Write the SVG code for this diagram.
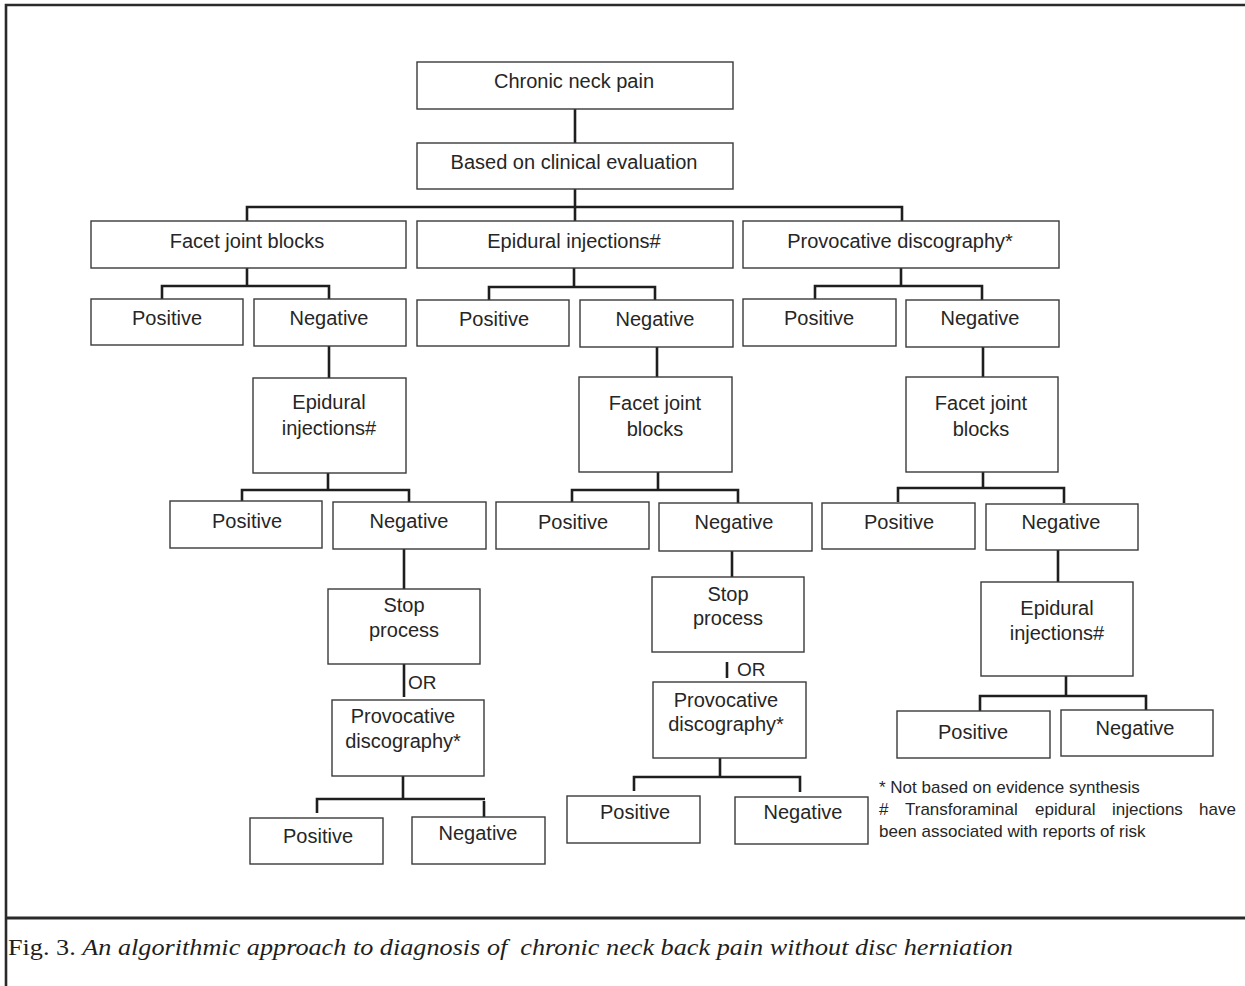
<svg xmlns="http://www.w3.org/2000/svg" width="1245" height="986" viewBox="0 0 1245 986">
<style>
.box{fill:#fff;stroke:#3a3a3a;stroke-width:1.4}
.lbl{font-family:"Liberation Sans",Arial,sans-serif;font-size:20px;fill:#262626;text-anchor:middle}
.or{font-family:"Liberation Sans",Arial,sans-serif;font-size:19px;fill:#262626}
.conn{stroke:#1e1e1e;stroke-width:2.6;fill:none;stroke-linecap:butt}
.frame{stroke:#2a2a2a;stroke-width:2.6;fill:none}
.note{font-family:"Liberation Sans",Arial,sans-serif;font-size:17px;fill:#262626}
.cap{font-family:"Liberation Serif","Times New Roman",serif;font-size:24px;fill:#1e1e1e;white-space:pre}
</style>
<rect width="1245" height="986" fill="#fff"/>
<g id="frame">
<path class="frame" d="M6,986 V5 H1245"/>
<path class="frame" d="M6,918 H1245" style="stroke-width:3"/>
</g>
<g id="connectors">
<path class="conn" d="M575,109 V143"/>
<path class="conn" d="M575,189 V221 M247,221 V207 H902 V221"/>
<path class="conn" d="M247,268 V286 M162,299 V286 H329 V299"/>
<path class="conn" d="M574,268 V287 M489,300 V287 H655 V300"/>
<path class="conn" d="M901,268 V286 M815,299 V286 H982 V300"/>
<path class="conn" d="M329,346 V378"/>
<path class="conn" d="M328,473 V490 M242,501 V490 H409 V502"/>
<path class="conn" d="M404,549 V589"/>
<path class="conn" d="M404,664 V697"/>
<path class="conn" d="M403,776 V799 M317,813 V799 H485 M484,801 V817"/>
<path class="conn" d="M657,347 V377"/>
<path class="conn" d="M658,472 V490 M572,502 V490 H738 V503"/>
<path class="conn" d="M732,551 V577"/>
<path class="conn" d="M727,662 V678"/>
<path class="conn" d="M720,758 V777 M634,791 V777 H800 V792"/>
<path class="conn" d="M983,347 V377"/>
<path class="conn" d="M983,472 V488 M898,502 V488 H1064 V503"/>
<path class="conn" d="M1058,550 V582"/>
<path class="conn" d="M1066,676 V696 M980,711 V696 H1146 V710"/>
</g>
<g id="n1"><rect class="box" x="417" y="62" width="316" height="47"/><text class="lbl" x="574" y="88">Chronic neck pain</text></g>
<g id="n2"><rect class="box" x="417" y="143" width="316" height="46"/><text class="lbl" x="574" y="169">Based on clinical evaluation</text></g>
<g id="n3"><rect class="box" x="91" y="221" width="315" height="47"/><text class="lbl" x="247" y="248">Facet joint blocks</text></g>
<g id="n4"><rect class="box" x="417" y="221" width="316" height="47"/><text class="lbl" x="574" y="248">Epidural injections#</text></g>
<g id="n5"><rect class="box" x="743" y="221" width="316" height="47"/><text class="lbl" x="900" y="248">Provocative discography*</text></g>
<g id="n6"><rect class="box" x="91" y="299" width="152" height="46"/><text class="lbl" x="167" y="325">Positive</text></g>
<g id="n7"><rect class="box" x="254" y="299" width="152" height="47"/><text class="lbl" x="329" y="325">Negative</text></g>
<g id="n8"><rect class="box" x="417" y="300" width="152" height="46"/><text class="lbl" x="494" y="326">Positive</text></g>
<g id="n9"><rect class="box" x="580" y="300" width="153" height="47"/><text class="lbl" x="655" y="326">Negative</text></g>
<g id="n10"><rect class="box" x="743" y="299" width="153" height="47"/><text class="lbl" x="819" y="325">Positive</text></g>
<g id="n11"><rect class="box" x="906" y="300" width="153" height="47"/><text class="lbl" x="980" y="325">Negative</text></g>
<g id="n12"><rect class="box" x="253" y="378" width="153" height="95"/><text class="lbl" x="329" y="409">Epidural</text><text class="lbl" x="329" y="435">injections#</text></g>
<g id="n13"><rect class="box" x="579" y="377" width="153" height="95"/><text class="lbl" x="655" y="410">Facet joint</text><text class="lbl" x="655" y="436">blocks</text></g>
<g id="n14"><rect class="box" x="906" y="377" width="152" height="95"/><text class="lbl" x="981" y="410">Facet joint</text><text class="lbl" x="981" y="436">blocks</text></g>
<g id="n15"><rect class="box" x="170" y="501" width="152" height="47"/><text class="lbl" x="247" y="528">Positive</text></g>
<g id="n16"><rect class="box" x="333" y="502" width="153" height="47"/><text class="lbl" x="409" y="528">Negative</text></g>
<g id="n17"><rect class="box" x="496" y="502" width="153" height="47"/><text class="lbl" x="573" y="529">Positive</text></g>
<g id="n18"><rect class="box" x="659" y="503" width="153" height="48"/><text class="lbl" x="734" y="529">Negative</text></g>
<g id="n19"><rect class="box" x="822" y="503" width="153" height="46"/><text class="lbl" x="899" y="529">Positive</text></g>
<g id="n20"><rect class="box" x="986" y="504" width="152" height="46"/><text class="lbl" x="1061" y="529">Negative</text></g>
<g id="n21"><rect class="box" x="328" y="589" width="152" height="75"/><text class="lbl" x="404" y="612">Stop</text><text class="lbl" x="404" y="637">process</text></g>
<g id="n22"><rect class="box" x="652" y="577" width="152" height="75"/><text class="lbl" x="728" y="601">Stop</text><text class="lbl" x="728" y="625">process</text></g>
<g id="n23"><rect class="box" x="981" y="582" width="152" height="94"/><text class="lbl" x="1057" y="615">Epidural</text><text class="lbl" x="1057" y="640">injections#</text></g>
<g id="or1"><text class="or" x="408" y="689">OR</text></g>
<g id="or2"><text class="or" x="737" y="676">OR</text></g>
<g id="n24"><rect class="box" x="332" y="700" width="152" height="76"/><text class="lbl" x="403" y="723">Provocative</text><text class="lbl" x="403" y="748">discography*</text></g>
<g id="n25"><rect class="box" x="653" y="682" width="153" height="76"/><text class="lbl" x="726" y="707">Provocative</text><text class="lbl" x="726" y="731">discography*</text></g>
<g id="n26"><rect class="box" x="897" y="711" width="153" height="47"/><text class="lbl" x="973" y="739">Positive</text></g>
<g id="n27"><rect class="box" x="1061" y="710" width="152" height="46"/><text class="lbl" x="1135" y="735">Negative</text></g>
<g id="n28"><rect class="box" x="567" y="796" width="133" height="47"/><text class="lbl" x="635" y="819">Positive</text></g>
<g id="n29"><rect class="box" x="735" y="797" width="133" height="47"/><text class="lbl" x="803" y="819">Negative</text></g>
<g id="n30"><rect class="box" x="250" y="818" width="133" height="46"/><text class="lbl" x="318" y="843">Positive</text></g>
<g id="n31"><rect class="box" x="412" y="817" width="133" height="47"/><text class="lbl" x="478" y="840">Negative</text></g>
<g id="footnote">
<text class="note" x="879" y="793">* Not based on evidence synthesis</text>
<text class="note" y="815"><tspan x="879">#</tspan><tspan x="905">Transforaminal</tspan><tspan x="1035">epidural</tspan><tspan x="1112">injections</tspan><tspan x="1199">have</tspan></text>
<text class="note" x="879" y="837">been associated with reports of risk</text>
</g>
<g id="caption">
<text class="cap" x="8" y="955" textLength="1005" lengthAdjust="spacingAndGlyphs">Fig. 3. <tspan font-style="italic">An algorithmic approach to diagnosis of  chronic neck back pain without disc herniation</tspan></text>
</g>
</svg>
